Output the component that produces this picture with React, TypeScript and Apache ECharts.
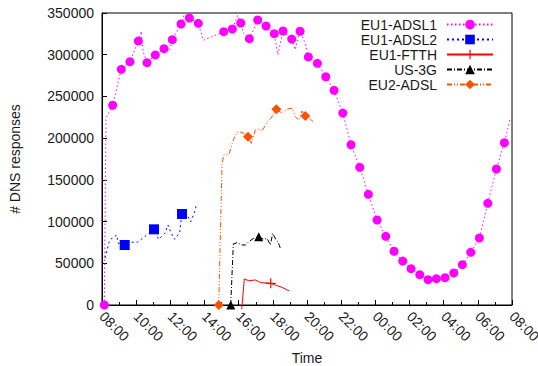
import React, { useEffect, useRef } from "react";
import * as echarts from "echarts";

// time is in hours after 08:00 (start of capture)
const xTickHours = [0, 2, 4, 6, 8, 10, 12, 14, 16, 18, 20, 22, 24];

const adsl1T = [0.135, 0.234, 0.626, 1.13, 1.639, 2.125, 2.301, 2.4, 2.635, 3.121, 3.63, 3.94, 4.116, 4.625, 4.801, 5.111, 5.638, 5.931, 6.716, 7.125, 7.629, 7.945, 8.121, 8.273, 8.624, 8.958, 9.116, 9.602, 10.088, 10.287, 10.597, 11.107, 11.3, 11.593, 11.885, 12.079, 12.606, 13.097, 13.583, 14.093, 14.578, 15.088, 15.591, 16.101, 16.61, 17.096, 17.605, 18.091, 18.601, 19.087, 19.573, 20.082, 20.591, 21.095, 21.587, 22.09, 22.582, 23.086, 23.554, 23.888];
const adsl1V = [0, 224100, 239400, 282500, 291600, 316400, 328100, 304400, 290400, 299700, 307200, 304100, 318000, 336800, 347200, 344000, 337600, 317300, 324000, 327600, 330800, 347200, 338000, 326000, 319200, 334000, 341600, 334400, 325200, 300000, 328400, 318800, 306000, 328100, 314000, 297300, 289700, 273600, 257300, 230100, 192100, 165000, 132700, 101900, 82300, 64400, 52700, 43500, 36300, 30300, 31500, 32700, 38400, 48300, 63200, 80300, 121900, 163000, 194500, 222900];
const adsl1Mark = [1, 0, 1, 1, 1, 1, 0, 0, 1, 1, 1, 0, 1, 1, 0, 1, 1, 0, 0, 1, 1, 0, 1, 0, 1, 0, 1, 1, 1, 0, 1, 1, 0, 1, 0, 1, 1, 1, 1, 1, 1, 1, 1, 1, 1, 1, 1, 1, 1, 1, 1, 1, 1, 1, 1, 1, 1, 1, 1, 0];

const adsl2T = [0.176, 0.451, 0.585, 0.861, 0.937, 1.329, 1.715, 2.067, 2.5, 3.044, 3.32, 3.671, 3.864, 4.057, 4.256, 4.549, 4.608, 4.684, 5.035, 5.193, 5.428, 5.521];
const adsl2V = [56300, 77900, 79900, 83900, 74000, 71900, 75200, 75200, 81900, 90700, 78700, 85900, 95900, 85900, 78700, 87100, 97900, 109100, 105800, 99800, 111800, 119900];
const adsl2Mark = [0, 0, 0, 0, 0, 1, 0, 0, 0, 1, 0, 0, 0, 0, 0, 0, 0, 1, 0, 0, 0, 0];

const ftthT = [8.179, 8.331, 8.589, 8.975, 9.174, 9.368, 9.877, 10.146, 10.539, 10.966];
const ftthV = [-5000, 31200, 29100, 30000, 27900, 26700, 26000, 24000, 21200, 16800];
const ftthMark = [0, 0, 0, 0, 0, 0, 1, 0, 0, 0];

const us3gT = [7.535, 7.687, 7.904, 8.197, 8.39, 8.589, 8.882, 9.174, 9.467, 9.66, 9.854, 9.994, 10.187, 10.304, 10.439];
const us3gV = [0, 73100, 74700, 71900, 71900, 75900, 79900, 81900, 78700, 79900, 71900, 85900, 77900, 75900, 68000];
const us3gMark = [1, 0, 0, 0, 0, 0, 0, 1, 0, 0, 0, 0, 0, 0, 0];

const eu2T = [6.833, 7.026, 7.125, 7.418, 7.512, 7.652, 7.769, 7.904, 8.197, 8.548, 8.741, 8.975, 9.174, 9.368, 9.66, 9.912, 10.205, 10.539, 10.831, 11.124, 11.317, 11.516, 11.71, 11.903, 12.196, 12.453];
const eu2V = [0, 168600, 179800, 180600, 185800, 195700, 201700, 207000, 207000, 201700, 193800, 209800, 211000, 208600, 219000, 224500, 234600, 229800, 234900, 235800, 225700, 221700, 232500, 226500, 222900, 217800];
const eu2Mark = [1, 0, 0, 0, 0, 0, 0, 0, 0, 1, 0, 0, 0, 0, 0, 0, 1, 0, 0, 0, 0, 0, 0, 1, 0, 0];

const seriesNames = ["EU1-ADSL1", "EU1-ADSL2", "EU1-FTTH", "US-3G", "EU2-ADSL"];

const FONT = "'Liberation Sans', Arial, sans-serif";
const TXT = "#1a1a1a";
const PLUS = "path://M4.4,0 H5.6 V4.4 H10 V5.6 H5.6 V10 H4.4 V5.6 H0 V4.4 H4.4 Z";

function build(t: number[], v: number[], m: number[]) {
  return t.map((x, i) => (m[i] ? { value: [x, v[i]] } : { value: [x, v[i]], symbol: "none" }));
}

function fmtHour(h: number) {
  const hh = (8 + Math.round(h)) % 24;
  return (hh < 10 ? "0" : "") + hh + ":00";
}

export default function App() {
  const ref = useRef<HTMLDivElement>(null);
  useEffect(() => {
    const chart = echarts.init(ref.current!, null, { renderer: "svg" });
    const mk = (
      name: string,
      data: any[],
      color: string,
      dash: any,
      symbol: string,
      size: number,
      z: number
    ) => ({
      name,
      type: "line",
      data,
      symbol,
      symbolSize: size,
      showSymbol: true,
      showAllSymbol: true,
      clip: false,
      z,
      lineStyle: { color, width: 1, type: dash },
      itemStyle: { color },
      emphasis: { disabled: true },
    });
    chart.setOption({
      animation: false,
      backgroundColor: "#fff",
      textStyle: { fontFamily: FONT },
      grid: {
        left: 102,
        right: 26,
        top: 13,
        bottom: 61,
        containLabel: false,
        outerBoundsMode: "none",
        show: true,
        borderColor: "#000",
        borderWidth: 1,
        backgroundColor: "transparent",
      },
      legend: {
        orient: "vertical",
        align: "right",
        right: 44,
        top: 17,
        padding: 0,
        itemGap: 0,
        itemWidth: 46,
        itemHeight: 12,
        data: seriesNames,
        textStyle: { fontSize: 14, color: TXT, fontFamily: FONT, lineHeight: 15, padding: [0, 5, 0, 0] },
      },
      xAxis: {
        type: "value",
        min: 0,
        max: 24,
        interval: 2,
        name: "Time",
        nameLocation: "middle",
        nameGap: 45,
        nameTextStyle: { fontSize: 14, color: TXT, fontFamily: FONT },
        axisLine: { lineStyle: { color: "#000", width: 1 } },
        axisTick: { inside: true, length: 5, lineStyle: { color: "#000" } },
        minorTick: { show: true, splitNumber: 2, length: 3, lineStyle: { color: "#000" } },
        splitLine: { show: false },
        axisLabel: {
          rotate: -45,
          fontSize: 14,
          color: TXT,
          fontFamily: FONT,
          margin: 9,
          formatter: (v: number) => (xTickHours.indexOf(v) >= 0 ? fmtHour(v) : ""),
        },
      },
      yAxis: {
        type: "value",
        min: 0,
        max: 350000,
        interval: 50000,
        name: "# DNS responses",
        nameLocation: "middle",
        nameRotate: 90,
        nameGap: 80,
        nameTextStyle: { fontSize: 14, color: TXT, fontFamily: FONT },
        axisLine: { show: true, lineStyle: { color: "#000", width: 1 } },
        axisTick: { show: true, inside: true, length: 5, lineStyle: { color: "#000" } },
        splitLine: { show: false },
        axisLabel: {
          fontSize: 14,
          color: TXT,
          fontFamily: FONT,
          margin: 8,
          formatter: (v: number) => String(v),
        },
      },
      series: [
        mk(seriesNames[0], build(adsl1T, adsl1V, adsl1Mark), "#ff00ff", [1.5, 2.5], "circle", 9, 6),
        mk(seriesNames[1], build(adsl2T, adsl2V, adsl2Mark), "#0000ff", [2, 3], "rect", 10, 5),
        mk(seriesNames[2], build(ftthT, ftthV, ftthMark), "#ff0000", "solid", PLUS, 10, 4),
        mk(seriesNames[3], build(us3gT, us3gV, us3gMark), "#000000", [5, 2, 1, 2], "triangle", 9, 3),
        mk(seriesNames[4], build(eu2T, eu2V, eu2Mark), "#ff5000", [5, 2, 1, 2, 1, 2], "diamond", 10, 2),
      ],
    });
    return () => chart.dispose();
  }, []);
  return (
    <div
      ref={ref}
      style={{ position: "absolute", left: 0, top: 0, width: 538, height: 366, background: "#fff" }}
    />
  );
}
